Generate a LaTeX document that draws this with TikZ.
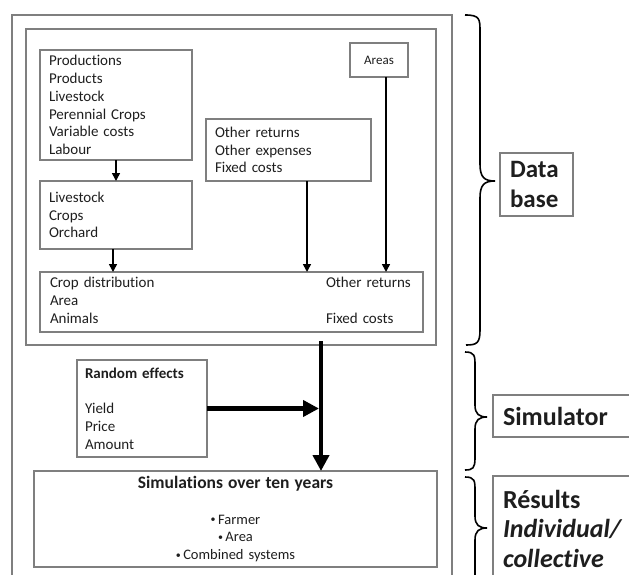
\documentclass[tikz,border=0pt]{standalone}
\usepackage{fontspec}
\setmainfont[Ligatures=NoCommon]{Carlito}
\usetikzlibrary{arrows.meta,calc}
\definecolor{boxgray}{HTML}{7F7F7F}
\definecolor{txtc}{HTML}{1E1E1E}
\newcommand\dgtxt{\fontsize{15}{17.8}\selectfont}
\newcommand\dglab{\fontsize{26}{29.5}\selectfont\bfseries}
\newcommand\dgbul{{\fontsize{10}{10}\selectfont\raisebox{1.2pt}{\textbullet}}\,}
\begin{document}
\begin{tikzpicture}[x=1pt,y=-1pt,
  box/.style={draw=boxgray, line width=1.2pt, inner xsep=9pt, inner ysep=0pt, outer sep=0pt,
              align=left, anchor=north west, font=\dgtxt, text=txtc},
  lab/.style={draw=boxgray, line width=1.2pt, inner xsep=10pt, inner ysep=0pt, outer sep=0pt,
              align=left, anchor=north west, font=\dglab, text=txtc},
  frame/.style={draw=boxgray, line width=1.4pt},
  arr/.style={-{Triangle[length=8pt,width=8pt]}, line width=1.6pt},
  bigarr/.style={-{Triangle[length=16pt,width=16pt]}, line width=4.5pt},
  brace/.style={line width=1.6pt}]
\useasboundingbox (0,0) rectangle (629,575);

% frames
\draw[frame] (12,577) -- (12,15) -- (452,15) -- (452,577);
\draw[frame] (26,29) rectangle (436,345);

% data boxes
\node[box, minimum width=152pt, minimum height=110pt, text width=134pt] (prod) at (40,50)
  {Productions\\Products\\Livestock\\Perennial Crops\\Variable costs\\Labour};
\node[box, minimum width=152pt, minimum height=68pt, text width=134pt] (liv) at (40,181)
  {Livestock\\Crops\\Orchard};
\node[box, minimum width=165pt, minimum height=62pt, text width=147pt] (other) at (206,119)
  {Other returns\\Other expenses\\Fixed costs};
\node[box, align=center, minimum width=58pt, minimum height=34pt, inner xsep=0pt, text width=58pt,
      font=\fontsize{13}{15}\selectfont] (areas) at (350,43) {Areas};
\node[box, minimum width=383pt, minimum height=60pt, text width=363pt, inner xsep=10pt] (crop) at (40,272)
  {\begin{tabular}{@{}p{276pt}@{}l@{}}Crop distribution & Other returns\\Area & \\Animals & Fixed costs\end{tabular}};

% simulator
\node[box, minimum width=130pt, minimum height=97pt, text width=114pt, inner xsep=8pt] (rand) at (77,360)
  {\textbf{Random effects}\\[17.8pt]Yield\\Price\\Amount};
\node[box, align=center, minimum width=403pt, minimum height=96pt, text width=385pt] (sim) at (34,471)
  {{\fontsize{17.5}{19}\selectfont\bfseries Simulations over ten years}\\[18pt]\fontsize{14.5}{17.8}\selectfont\dgbul Farmer\\\dgbul Area\\\dgbul Combined systems};

% arrows
\draw[arr] (prod) -- (liv);
\draw[arr] ([xshift=-3pt]liv.south) -- ([xshift=-3pt]liv.south |- crop.north);
\draw[arr] ([xshift=18.5pt]other.south) -- ([xshift=18.5pt]other.south |- crop.north);
\draw[arr] ([xshift=7pt]areas.south) -- ([xshift=7pt]areas.south |- crop.north);
\coordinate (tstart) at (321,341);
\draw[bigarr] (tstart) -- (tstart |- sim.north);
\draw[bigarr] (rand.east) -- ([xshift=-2pt]rand.east -| tstart);

% braces
\draw[brace] (465,15) .. controls (480,15) and (480,19) .. (480,32) -- (480,164)
  .. controls (480,177) and (484,181) .. (495,181)
  .. controls (484,181) and (480,185) .. (480,198) -- (480,330)
  .. controls (480,343) and (477,345) .. (466,345);
\draw[brace] (465,352) .. controls (475,352) and (475,356) .. (475,366) -- (475,405)
  .. controls (475,414) and (479,417) .. (487,417)
  .. controls (479,417) and (475,420) .. (475,429) -- (475,458)
  .. controls (475,468) and (473,470) .. (465,470);
\draw[brace] (465,477) .. controls (475,477) and (475,481) .. (475,491) -- (475,516)
  .. controls (475,525) and (479,528) .. (487,528)
  .. controls (479,528) and (475,531) .. (475,540) -- (475,578);

% labels
\node[lab, minimum width=73pt, minimum height=63pt, text width=53pt, font=\fontsize{25}{30}\selectfont\bfseries] (db) at (500,153) {Data\\base};
\node[lab, minimum width=142pt, minimum height=42pt, text width=122pt] (simu) at (493,395) {Simulator};
\node[lab, minimum width=142pt, minimum height=105pt, text width=122pt] (res) at (493,476)
  {Résults\\\itshape Individual/\\collective};
\end{tikzpicture}
\end{document}
